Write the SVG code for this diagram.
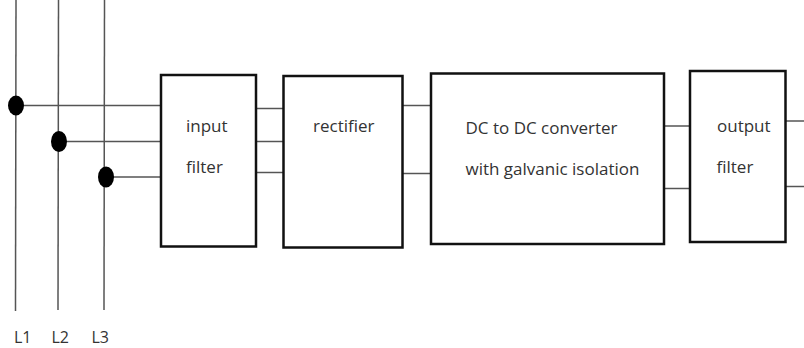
<svg xmlns="http://www.w3.org/2000/svg" width="804" height="348" viewBox="0 0 804 348">
  <style>
    .box { fill: #ffffff; stroke: #111111; stroke-width: 2.5; }
    .wire { stroke: #555555; stroke-width: 1.5; fill: none; }
    .dot { fill: #000000; }
    .label { font-family: "Open Sans", "Liberation Sans", sans-serif; font-size: 17px; fill: #333333; }
    .phase { font-family: "Open Sans", "Liberation Sans", sans-serif; font-size: 16px; fill: #333333; }
  </style>
  <rect width="804" height="348" fill="#ffffff"/>

  <!-- connectors: phase lines and links between stages -->
  <g id="connectors">
    <!-- three-phase supply lines -->
    <line class="wire" x1="16" y1="0" x2="15.5" y2="311"/>
    <line class="wire" x1="58.5" y1="0" x2="58" y2="310"/>
    <line class="wire" x1="104.5" y1="0" x2="104" y2="310"/>
    <!-- taps into input filter -->
    <line class="wire" x1="16" y1="105.5" x2="161" y2="105.5"/>
    <line class="wire" x1="59" y1="141.5" x2="161" y2="141.5"/>
    <line class="wire" x1="106" y1="177" x2="161" y2="177"/>
    <!-- input filter to rectifier -->
    <line class="wire" x1="256" y1="108.5" x2="283" y2="108.5"/>
    <line class="wire" x1="256" y1="141.5" x2="283" y2="141.5"/>
    <line class="wire" x1="256" y1="172.5" x2="283" y2="172.5"/>
    <!-- rectifier to DC/DC converter -->
    <line class="wire" x1="403" y1="105.5" x2="431" y2="105.5"/>
    <line class="wire" x1="403" y1="173.5" x2="431" y2="173.5"/>
    <!-- DC/DC converter to output filter -->
    <line class="wire" x1="664" y1="126" x2="690" y2="126"/>
    <line class="wire" x1="664" y1="188.5" x2="690" y2="188.5"/>
    <!-- outputs -->
    <line class="wire" x1="786" y1="121" x2="804" y2="121"/>
    <line class="wire" x1="786" y1="186.5" x2="804" y2="186.5"/>
    <!-- junction dots -->
    <ellipse class="dot" cx="16" cy="105.5" rx="8" ry="10"/>
    <ellipse class="dot" cx="59" cy="141.5" rx="8" ry="10.5"/>
    <ellipse class="dot" cx="106" cy="177" rx="8" ry="10.5"/>
  </g>

  <g id="input-filter">
    <rect class="box" x="161" y="75" width="95" height="171.5"/>
    <text class="label" x="186" y="132">input</text>
    <text class="label" x="186" y="173">filter</text>
  </g>

  <g id="rectifier">
    <rect class="box" x="283.5" y="76" width="119" height="171.5"/>
    <text class="label" x="313" y="132">rectifier</text>
  </g>

  <g id="dc-dc-converter">
    <rect class="box" x="431" y="73.5" width="233" height="170.5"/>
    <text class="label" x="465.5" y="134">DC to DC converter</text>
    <text class="label" x="465.5" y="175">with galvanic isolation</text>
  </g>

  <g id="output-filter">
    <rect class="box" x="690" y="71" width="95.5" height="171"/>
    <text class="label" x="717" y="132">output</text>
    <text class="label" x="716.5" y="173">filter</text>
  </g>

  <g id="phase-labels">
    <text class="phase" x="14" y="343">L1</text>
    <text class="phase" x="51.5" y="343">L2</text>
    <text class="phase" x="91.5" y="343">L3</text>
  </g>
</svg>
